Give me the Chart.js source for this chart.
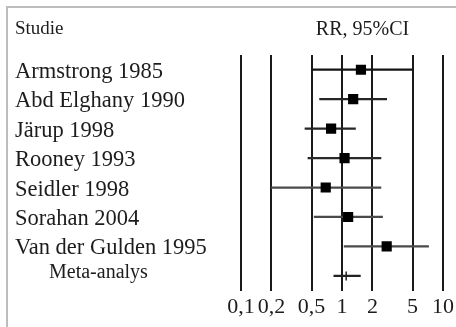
<!DOCTYPE html>
<html>
<head>
<meta charset="utf-8">
<script src="https://cdn.jsdelivr.net/npm/chart.js@4/dist/chart.umd.min.js"></script>
<style>
  html, body { margin: 0; padding: 0; background: #fff; }
  #wrap { width: 456px; height: 327px; }
</style>
</head>
<body>
<div id="wrap"><canvas id="forest" width="456" height="327"></canvas></div>
<script>
// Studies in the meta-analysis, top to bottom
const studies = [
  'Armstrong 1985',
  'Abd Elghany 1990',
  'Järup 1998',
  'Rooney 1993',
  'Seidler 1998',
  'Sorahan 2004',
  'Van der Gulden 1995',
  'Meta-analys'
];
// Relative risk point estimates
const rr = [1.54, 1.29, 0.78, 1.06, 0.69, 1.15, 2.77, 1.1];
// 95% confidence interval bounds
const ciLow  = [0.5, 0.6, 0.43, 0.46, 0.2, 0.53, 1.05, 0.83];
const ciHigh = [5.0, 2.77, 1.36, 2.43, 2.43, 2.52, 7.2, 1.52];
// Log axis ticks and their labels (decimal comma)
const tickValues = [0.1, 0.2, 0.5, 1, 2, 5, 10];
const tickLabels = ['0,1', '0,2', '0,5', '1', '2', '5', '10'];

const SERIF = "'Liberation Serif', 'Times New Roman', Times, serif";
const TEXT = '#1c1c1c';
const lastIdx = studies.length - 1;

const ciColors = ['#151515', '#262626', '#262626', '#2a2a2a', '#4a4a4a', '#4a4a4a', '#4a4a4a', '#222'];

// Frame, headings and study names
const textPlugin = {
  id: 'forestText',
  beforeDraw(chart) {
    const ctx = chart.ctx;
    ctx.save();
    ctx.strokeStyle = '#bdbdbd';
    ctx.lineWidth = 2;
    ctx.beginPath();
    ctx.moveTo(7, 327);
    ctx.lineTo(7, 7);
    ctx.lineTo(456, 7);
    ctx.stroke();
    ctx.restore();
  },
  afterDraw(chart) {
    const ctx = chart.ctx;
    const y = chart.scales.y;
    ctx.save();
    ctx.fillStyle = TEXT;
    ctx.textBaseline = 'alphabetic';
    ctx.textAlign = 'left';
    ctx.font = '19px ' + SERIF;
    ctx.fillText('Studie', 15, 34);
    ctx.textAlign = 'center';
    ctx.font = '20px ' + SERIF;
    ctx.fillText('RR, 95%CI', 362.5, 35);
    ctx.textAlign = 'left';
    studies.forEach((name, i) => {
      const py = y.getPixelForValue(i);
      if (i === lastIdx) {
        ctx.font = '20px ' + SERIF;
        ctx.fillText(name, 49, py + 2.5);
      } else {
        ctx.font = '22.5px ' + SERIF;
        ctx.fillText(name, 15, py + 8);
      }
    });
    ctx.restore();
  }
};

new Chart(document.getElementById('forest'), {
  data: {
    labels: studies,
    datasets: [
      {
        type: 'bar',
        label: '95% CI',
        data: studies.map((s, i) => [ciLow[i], ciHigh[i]]),
        backgroundColor: ciColors,
        borderWidth: 0,
        barThickness: 1.6,
        grouped: false,
        order: 2
      },
      {
        type: 'scatter',
        label: 'RR',
        data: studies.map((s, i) => ({ x: rr[i], y: s })),
        backgroundColor: '#000',
        borderColor: '#222',
        pointStyle: ctx => ctx.dataIndex === lastIdx ? 'line' : 'rect',
        rotation: ctx => ctx.dataIndex === lastIdx ? 90 : 0,
        pointRadius: ctx => ctx.dataIndex === lastIdx ? 4.5 : 7.2,
        pointHoverRadius: ctx => ctx.dataIndex === lastIdx ? 4.5 : 7.2,
        borderWidth: ctx => ctx.dataIndex === lastIdx ? 1.5 : 0,
        order: 1
      }
    ]
  },
  options: {
    indexAxis: 'y',
    responsive: false,
    animation: false,
    devicePixelRatio: 1,
    layout: { padding: { left: 241, right: 13, top: 55, bottom: 4 } },
    plugins: {
      legend: { display: false },
      tooltip: { enabled: false },
      title: { display: false }
    },
    scales: {
      x: {
        type: 'logarithmic',
        position: 'bottom',
        min: 0.1,
        max: 10,
        afterBuildTicks(scale) {
          scale.ticks = tickValues.map(v => ({ value: v }));
        },
        afterFit(scale) {
          // the end labels may overhang into the layout padding
          scale.paddingLeft = 0;
          scale.paddingRight = 0;
        },
        grid: {
          color: '#1a1a1a',
          lineWidth: 2,
          drawTicks: false
        },
        border: { display: false },
        ticks: {
          autoSkip: false,
          maxRotation: 0,
          padding: 3,
          color: TEXT,
          font: { family: SERIF, size: 22 },
          callback: (v, i) => tickLabels[i]
        }
      },
      y: {
        type: 'category',
        labels: studies,
        offset: true,
        display: false,
        grid: { display: false }
      }
    }
  },
  plugins: [textPlugin]
});
</script>
</body>
</html>
